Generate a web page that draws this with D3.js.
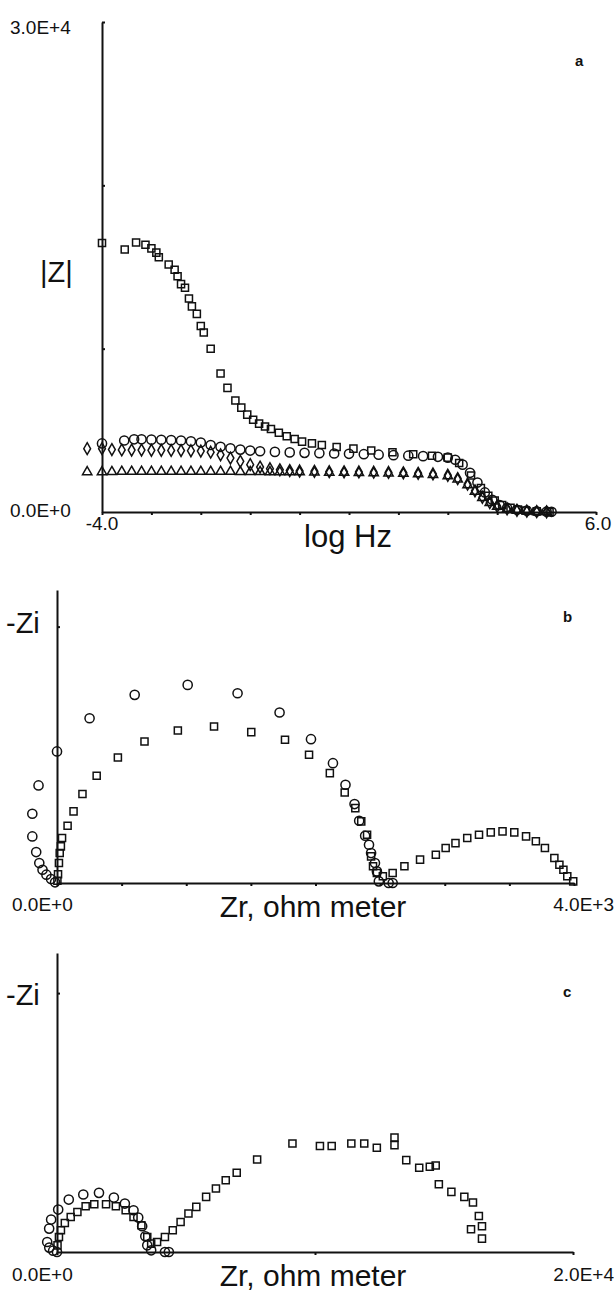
<!DOCTYPE html>
<html><head><meta charset="utf-8">
<script src="https://cdn.jsdelivr.net/npm/d3@7"></script>
<style>body{margin:0;background:#fff}text{font-family:"Liberation Sans",Arial,sans-serif;fill:#111}</style>
</head><body><div id="chart"></div>
<script>
// panel a: |Z| vs log Hz
var aSquares=[[-4,16470],[-3.54,16070],[-3.31,16500],[-3.12,16360],[-3.0,16140],[-2.9,15880],[-2.85,15600],[-2.65,15150],[-2.53,14830],[-2.47,14430],[-2.4,13950],[-2.32,13730],[-2.24,13070],[-2.18,12590],[-2.08,12130],[-2.0,11390],[-1.94,10990],[-1.8,10000],[-1.6,8480],[-1.46,7600],[-1.3,6830],[-1.18,6390],[-1.06,5960],[-0.94,5650],[-0.82,5410],[-0.7,5230],[-0.58,5080],[-0.42,4850],[-0.26,4640],[-0.1,4470],[0.05,4310],[0.25,4200],[0.45,4100],[0.75,3980],[1.09,3880],[1.45,3770],[1.88,3660],[2.3,3540],[2.68,3440],[3.0,3330],[3.23,3000],[3.47,2230],[3.67,1470],[3.82,1000],[3.95,700],[4.1,420],[4.27,260],[4.42,150],[4.58,90],[4.8,40],[5.06,5]];
var aCircles=[[-4,4200],[-3.55,4380],[-3.35,4450],[-3.2,4450],[-3.0,4430],[-2.8,4420],[-2.6,4400],[-2.4,4380],[-2.2,4330],[-2.0,4250],[-1.8,4100],[-1.6,3990],[-1.4,3900],[-1.2,3820],[-1.0,3760],[-0.8,3720],[-0.5,3680],[-0.2,3650],[0.1,3620],[0.4,3600],[0.7,3580],[1.0,3560],[1.3,3540],[1.6,3510],[1.9,3480],[2.2,3450],[2.5,3420],[2.8,3380],[3.0,3330],[3.15,3200],[3.3,2900],[3.45,2400],[3.6,1800],[3.75,1200],[3.9,750],[4.05,430],[4.2,250],[4.4,140],[4.6,80],[4.8,40],[5.0,20],[5.1,10]];
var aDiamonds=[[-4.3,3880],[-4,3880],[-3.8,3820],[-3.6,3800],[-3.4,3790],[-3.2,3790],[-3.0,3780],[-2.8,3780],[-2.6,3770],[-2.4,3760],[-2.2,3750],[-2.0,3730],[-1.8,3660],[-1.6,3500],[-1.4,3300],[-1.2,3100],[-1.0,2900],[-0.8,2750],[-0.6,2650],[-0.4,2580],[-0.2,2540],[0.0,2510],[0.3,2490],[0.6,2470],[0.9,2460],[1.2,2450],[1.5,2440],[1.8,2420],[2.1,2400],[2.4,2370],[2.7,2330],[3.0,2250],[3.2,2050],[3.4,1700],[3.55,1300],[3.7,900],[3.85,580],[4.0,350],[4.2,190],[4.4,100],[4.6,50],[4.8,25],[5.0,10]];
var aTriangles=[[-4.3,2450],[-4,2450],[-3.8,2460],[-3.6,2470],[-3.4,2470],[-3.2,2470],[-3.0,2470],[-2.8,2470],[-2.6,2470],[-2.4,2470],[-2.2,2470],[-2.0,2470],[-1.8,2470],[-1.6,2470],[-1.4,2470],[-1.2,2460],[-1.0,2460],[-0.8,2460],[-0.6,2450],[-0.4,2450],[-0.2,2450],[0.0,2440],[0.3,2430],[0.6,2420],[0.9,2410],[1.2,2400],[1.5,2390],[1.8,2370],[2.1,2350],[2.4,2320],[2.7,2280],[3.0,2200],[3.2,2000],[3.4,1650],[3.55,1250],[3.7,870],[3.85,560],[4.0,330],[4.2,180],[4.4,95],[4.6,45],[4.8,20],[5.0,8]];
// panel b: Nyquist
var bCircles=[[2597,0],[2566,0],[2490,15],[2475,106],[2460,182],[2430,273],[2414,349],[2384,431],[2338,568],[2302,720],[2232,896],[2135,1093],[1965,1312],[1722,1555],[1397,1731],[1011,1807],[601,1716],[252,1503],[0,1200],[-143,890],[-191,632],[-191,425],[-161,282],[-137,182],[-112,121],[-82,76],[-46,36],[-15,6]];
var bSquares=[[3994,15],[3948,61],[3918,121],[3887,167],[3848,228],[3775,319],[3705,380],[3629,425],[3538,462],[3447,471],[3356,462],[3265,440],[3174,410],[3083,364],[3007,319],[2931,258],[2809,213],[2688,152],[2597,91],[2521,61],[2475,91],[2445,152],[2430,243],[2399,440],[2354,562],[2308,683],[2226,826],[2111,1002],[1950,1169],[1764,1306],[1503,1376],[1215,1427],[935,1391],[677,1291],[471,1145],[307,978],[197,811],[128,653],[82,522],[39,410],[30,334],[21,273],[15,182],[8,80],[3,20]];
// panel c
var cCircles=[[4335,0],[4183,0],[3650,76],[3498,304],[3422,715],[3301,1171],[3148,1567],[2966,1901],[2631,2205],[2205,2479],[1627,2692],[1019,2616],[456,2388],[46,1932],[-228,1475],[-304,1065],[-380,456],[-300,200],[-150,60],[0,0]];
var cSquares=[[16472,608],[16047,1034],[16472,1171],[16351,1643],[16123,2251],[15788,2510],[15286,2738],[14800,3088],[14678,3939],[14450,3879],[14039,3833],[13537,4183],[13081,5217],[13081,4867],[12396,4746],[11909,4943],[11408,4943],[10647,4822],[10191,4822],[9126,4943],[7757,4213],[6966,3605],[6540,3270],[6160,2890],[5780,2510],[5399,2053],[5095,1749],[4791,1369],[4487,989],[4183,684],[3879,456],[3650,380],[3498,684],[3270,1217],[2966,1597],[2662,1901],[2282,2084],[1901,2175],[1445,2175],[1110,2084],[791,1825],[532,1597],[304,1323],[152,989],[76,684],[20,300]];

var svg=d3.select("#chart").append("svg").attr("width",614).attr("height",1290);

var sym={square:d3.symbolSquare,circle:d3.symbolCircle,diamond:d3.symbolDiamond,triangle:d3.symbolTriangle};
var symSize={square:50,circle:66,diamond:40,triangle:38};

function plot(p){
  var x=d3.scaleLinear().domain(p.xd).range([p.left,p.right]);
  var y=d3.scaleLinear().domain(p.yd).range([p.bottom,p.top]);
  svg.append("g").attr("transform","translate(0,"+p.bottom+")")
    .call(d3.axisBottom(x).tickValues(p.xt).tickSizeInner(3).tickSizeOuter(0).tickFormat(""))
    .call(function(g){g.selectAll("path,line").attr("stroke","#111").attr("stroke-width",2);});
  svg.append("g").attr("transform","translate("+p.left+",0)")
    .call(d3.axisLeft(y).tickValues(p.yt).tickSizeInner(-3).tickSizeOuter(0).tickFormat(""))
    .call(function(g){g.selectAll("path,line").attr("stroke","#111").attr("stroke-width",2);});
  p.series.forEach(function(s){
    svg.append("g").selectAll("path").data(s.data).enter().append("path")
      .attr("transform",function(d){return "translate("+x(d[0])+","+y(d[1])+")";})
      .attr("d",d3.symbol().type(sym[s.shape]).size(symSize[s.shape]))
      .attr("fill","none").attr("stroke","#111").attr("stroke-width",1.5);
  });
  p.texts.forEach(function(t){
    svg.append("text").attr("x",t[0]).attr("y",t[1]).attr("text-anchor",t[4]||"start")
      .attr("dy","0.35em")
      .style("font-size",t[3]+"px").style("font-weight",t[5]||"normal").text(t[2]);
  });
}

plot({xd:[-4,6],yd:[0,30000],left:102,right:596,top:22,bottom:512,
  xt:d3.range(-4,6.01,1),yt:[10000,20000,30000],
  series:[{shape:"triangle",data:aTriangles},{shape:"diamond",data:aDiamonds},{shape:"circle",data:aCircles},{shape:"square",data:aSquares}],
  texts:[[10,27,"3.0E+4",19],[10,510,"0.0E+0",19],[102,523,"-4.0",19,"middle"],[598,523,"6.0",19,"middle"],
         [348,536,"log Hz",31,"middle"],[40,272,"|Z|",29],[575,61,"a",15,"start","bold"]]});

plot({xd:[0,4000],yd:[0,880*3.037],left:57,right:574,top:590,bottom:883,
  xt:d3.range(0,4001,500),yt:[770*3.037],
  series:[{shape:"circle",data:bCircles},{shape:"square",data:bSquares}],
  texts:[[12,904,"0.0E+0",19],[614,904,"4.0E+3",19,"end"],[313,906,"Zr, ohm meter",30,"middle"],
         [6,623,"-Zi",29],[563,617,"b",15,"start","bold"]]});

plot({xd:[0,20000],yd:[0,895*15.21],left:57,right:573,top:953,bottom:1252,
  xt:[0,10000,20000],yt:[775*15.21],
  series:[{shape:"circle",data:cCircles},{shape:"square",data:cSquares}],
  texts:[[12,1274,"0.0E+0",19],[614,1274,"2.0E+4",19,"end"],[313,1275,"Zr, ohm meter",30,"middle"],
         [6,995,"-Zi",29],[563,992,"c",15,"start","bold"]]});
</script></body></html>
